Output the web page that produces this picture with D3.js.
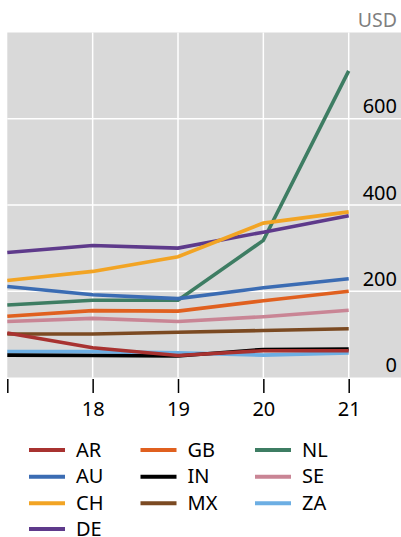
<!DOCTYPE html>
<html>
<head>
<meta charset="utf-8">
<script src="https://cdn.jsdelivr.net/npm/d3@7"></script>
<style>
  body { margin: 0; background: #fff; }
  svg { display: block; font-family: "Noto Sans", "Open Sans", sans-serif; }
</style>
</head>
<body>
<svg id="canvas" width="401" height="537"></svg>
<script>
// years on the x axis (17 has no label)
const years = [17, 18, 19, 20, 21];
const yTicks = [0, 200, 400, 600];

const codes = ['AR', 'AU', 'CH', 'DE', 'GB', 'IN', 'MX', 'NL', 'SE', 'ZA'];
const colors = ['#a83230', '#3b6cb3', '#f2a424', '#5e3a8b', '#e0601f',
  '#000000', '#7b4a22', '#3e7d63', '#c98595', '#6caee3'];

// values, USD
const AR = [103, 69, 51, 62, 62];
const AU = [211, 192, 183, 208, 229];
const CH = [225, 246, 280, 358, 384];
const DE = [290, 306, 300, 337, 375];
const GB = [142, 155, 154, 178, 200];
const IN = [52, 51, 50, 65, 66];
const MX = [101, 101, 105, 109, 113];
const NL = [168, 179, 179, 318, 711];
const SE = [130, 137, 130, 141, 156];
const ZA = [60, 60, 57, 52, 57];

const values = [AR, AU, CH, DE, GB, IN, MX, NL, SE, ZA];

const svg = d3.select('#canvas');

const plotLeft = 7.3, plotRight = 401, plotTop = 32.5, plotBottom = 377.5;

const x = d3.scaleLinear().domain([17, 21]).range([plotLeft, 348.7]);
const y = d3.scaleLinear().domain([0, 800]).range([plotBottom, plotTop]);

// plot background
svg.append('rect')
  .attr('x', plotLeft).attr('y', plotTop)
  .attr('width', plotRight - plotLeft).attr('height', plotBottom - plotTop)
  .attr('fill', '#d9d9d9');

// gridlines
svg.append('g').selectAll('line')
  .data(years.slice(1))
  .join('line')
  .attr('x1', d => x(d)).attr('x2', d => x(d))
  .attr('y1', plotTop).attr('y2', plotBottom)
  .attr('stroke', '#fff').attr('stroke-width', 1.5);

svg.append('g').selectAll('line')
  .data(yTicks.slice(1))
  .join('line')
  .attr('x1', plotLeft).attr('x2', plotRight)
  .attr('y1', d => y(d)).attr('y2', d => y(d))
  .attr('stroke', '#fff').attr('stroke-width', 1.5);

// y labels sit inside the plot, right aligned above their gridline
svg.append('g').selectAll('text')
  .data(yTicks)
  .join('text')
  .attr('x', 397).attr('y', d => y(d) - 5.5)
  .attr('text-anchor', 'end')
  .attr('font-size', 20)
  .attr('fill', '#000')
  .text(d => d);

svg.append('text')
  .attr('x', 397).attr('y', 26.5)
  .attr('text-anchor', 'end')
  .attr('font-size', 19.5)
  .attr('fill', '#7f7f7f')
  .text('USD');

// x axis: ticks below the plot
const xAxis = d3.axisBottom(x)
  .tickValues(years)
  .tickSize(14)
  .tickPadding(9)
  .tickFormat(d => d === 17 ? '' : d);

const gx = svg.append('g')
  .attr('transform', 'translate(0,' + (plotBottom + 1.5) + ')')
  .call(xAxis);
gx.select('.domain').remove();
gx.selectAll('.tick line').attr('stroke', '#000').attr('stroke-width', 1.5);
gx.selectAll('.tick text')
  .attr('font-size', 20)
  .attr('font-family', '"Noto Sans", "Open Sans", sans-serif')
  .attr('fill', '#000');

// lines, AR drawn last so it sits on top
const line = d3.line()
  .x((d, i) => x(years[i]))
  .y(d => y(d));

const series = codes.map((c, i) => ({ code: c, color: colors[i], vals: values[i] }));

svg.append('g').selectAll('path')
  .data(series.slice().reverse())
  .join('path')
  .attr('d', d => line(d.vals))
  .attr('fill', 'none')
  .attr('stroke', d => d.color)
  .attr('stroke-width', 3.6);

// legend: three columns, four rows in the first
const colX = [29, 140.5, 255];
const rowY = [450, 476.7, 503.3, 529];
const perCol = [4, 3, 3];
let k = 0;
const legendItems = [];
perCol.forEach((n, ci) => {
  for (let r = 0; r < n; r++) {
    legendItems.push({ s: series[k], cx: colX[ci], cy: rowY[r] });
    k++;
  }
});

const lg = svg.append('g').selectAll('g')
  .data(legendItems)
  .join('g')
  .attr('transform', d => 'translate(' + d.cx + ',' + d.cy + ')');

lg.append('line')
  .attr('x1', 0).attr('x2', 36)
  .attr('y1', 0).attr('y2', 0)
  .attr('stroke', d => d.s.color)
  .attr('stroke-width', 4);

lg.append('text')
  .attr('x', 47).attr('y', 6.5)
  .attr('font-size', 20)
  .attr('fill', '#000')
  .text(d => d.s.code);
</script>
</body>
</html>
